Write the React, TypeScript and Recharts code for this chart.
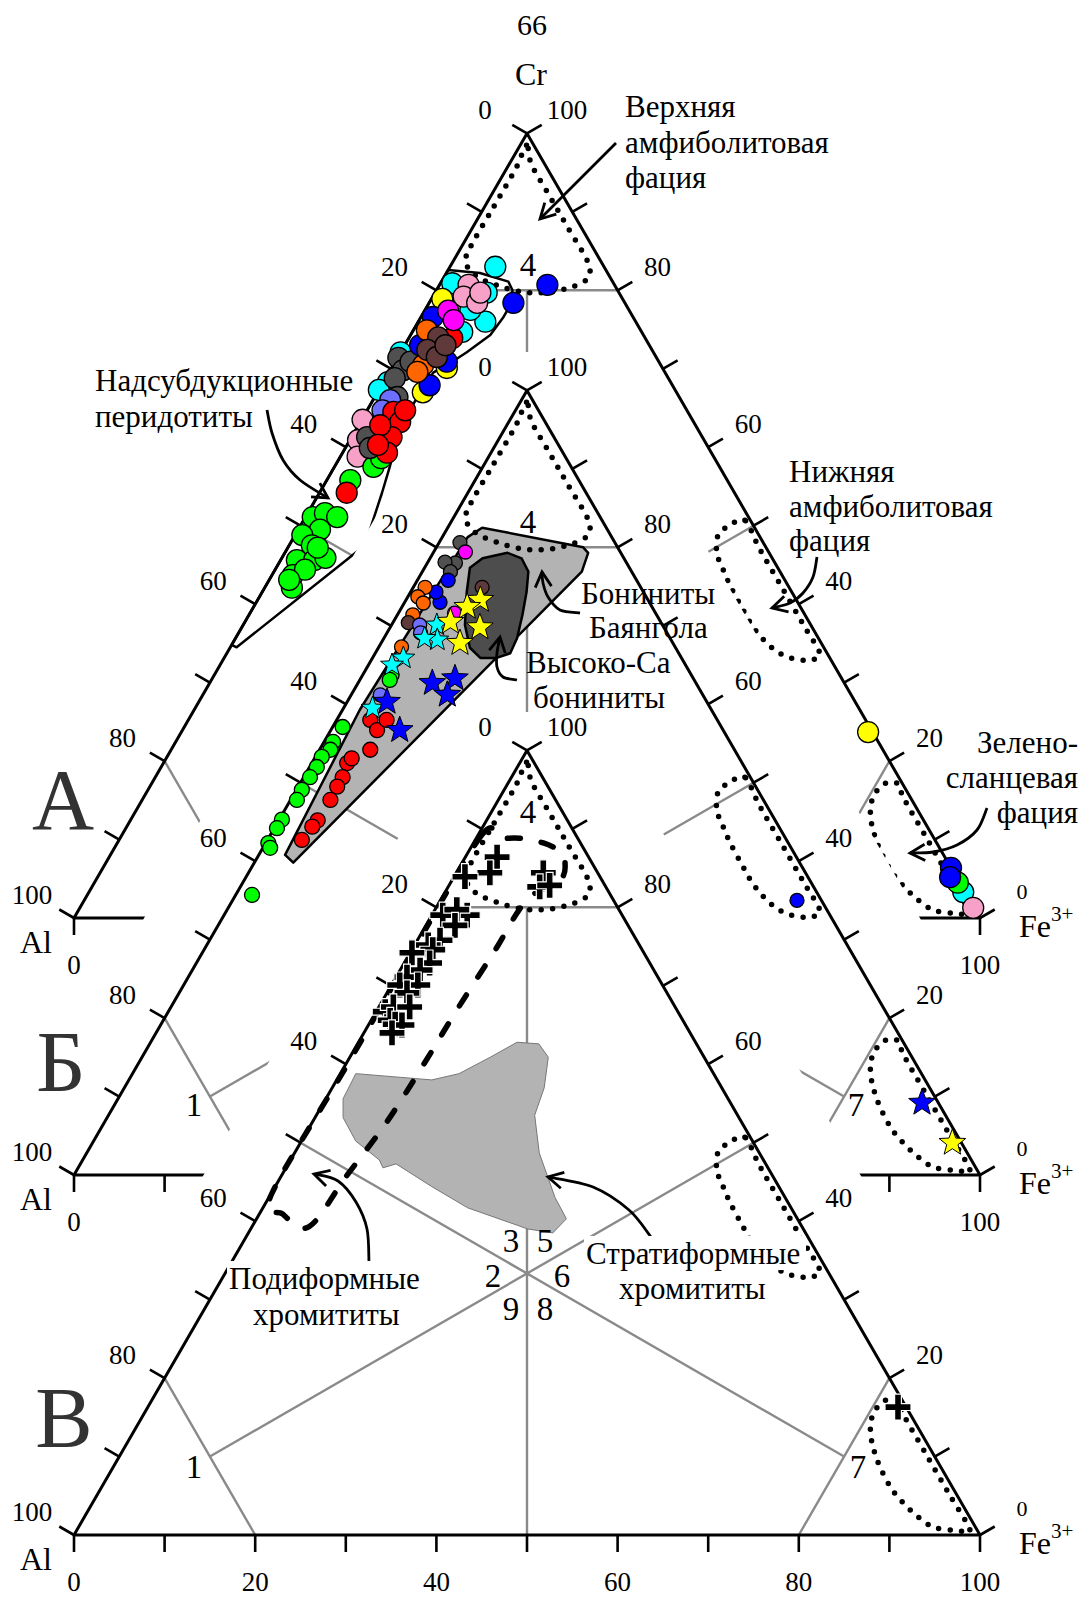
import React from 'react';
import { ScatterChart, Scatter, XAxis, YAxis } from 'recharts';

// composition as [Cr, Al, Fe3+] in percent
type Tern = [number, number, number];
type P = { x: number; y: number };

// ---------- diagram А: spinels of supra-subduction peridotites ----------
const aCyan: Tern[] = [[83.0, 12.0, 5.0], [80.9, 17.8, 1.3], [79.7, 14.6, 5.7], [76.0, 16.6, 7.4], [74.7, 19.8, 5.5], [77.5, 17.5, 5.0], [68.3, 31.2, 0.5], [67.3, 32.7, 0], [72.1, 27.9, 0], [3.3, 0.2, 96.5]];
const aPink: Tern[] = [[80.7, 16.2, 3.2], [79.2, 17.4, 3.4], [78.4, 16.3, 5.3], [79.7, 15.3, 5.0], [63.5, 36.5, 0.1], [60.9, 38.2, 0.9], [58.8, 39.3, 1.9], [1.3, 0.1, 98.6]];
const aGreen: Tern[] = [[57.5, 38.2, 4.3], [58.6, 36.8, 4.6], [55.8, 41.6, 2.6], [51.1, 48.1, 0.8], [51.6, 46.5, 1.9], [51.1, 45.4, 3.5], [49.5, 48.1, 2.4], [48.8, 50.4, 0.8], [47.5, 50.0, 2.5], [45.6, 52.6, 1.8], [43.7, 54.0, 2.3], [45.6, 50.7, 3.7], [45.9, 49.3, 4.8], [42.1, 54.9, 3.0], [44.4, 52.3, 3.3], [47.2, 49.5, 3.3], [43.1, 54.7, 2.2], [4.5, 0.2, 95.3]];
const aGray: Tern[] = [[71.4, 28.5, 0.1], [69.8, 28.8, 1.4], [68.8, 30.2, 1.0], [66.4, 31.1, 2.5], [61.3, 37.0, 1.7], [59.9, 37.4, 2.7], [70.9, 27.4, 1.7]];
const aViolet: Tern[] = [[66.0, 32.1, 1.9], [64.7, 33.6, 1.7]];
const aYellow: Tern[] = [[78.9, 19.9, 1.2], [67.0, 28.0, 5.0], [70.1, 23.8, 6.1], [23.7, 0.5, 75.8]];
const aBlue: Tern[] = [[78.4, 12.3, 9.3], [80.7, 7.4, 11.9], [76.6, 22.1, 1.3], [67.9, 26.8, 5.3], [70.9, 23.4, 5.7], [73.0, 25.3, 1.7], [6.4, 0, 93.6], [5.2, 0.7, 94.1]];
const aRed: Tern[] = [[73.9, 21.3, 4.8], [64.5, 32.5, 3.0], [63.2, 32.4, 4.4], [61.3, 34.3, 4.4], [59.3, 35.8, 4.9], [62.8, 34.8, 2.4], [60.3, 36.3, 3.4], [54.2, 42.8, 3.0], [64.7, 31.1, 4.2]];
const aOrange: Tern[] = [[70.5, 26.2, 3.3], [69.6, 27.3, 3.1], [74.9, 23.6, 1.5]];
const aBrown: Tern[] = [[74.0, 22.8, 3.2], [72.4, 24.8, 2.8], [71.5, 24.2, 4.3], [73.0, 22.5, 4.5]];
const aMagenta: Tern[] = [[77.4, 20.0, 2.6], [76.2, 20.0, 3.8]];

// ---------- diagram Б: boninites ----------
const bGray: Tern[] = [[80.6, 17.1, 2.3], [78.0, 18.9, 3.1], [78.1, 20.0, 1.9], [76.9, 20.0, 3.1]];
const bMagenta: Tern[] = [[79.4, 17.1, 3.5], [71.6, 22.2, 6.2]];
const bBlue: Tern[] = [[75.8, 20.8, 3.4], [73.0, 23.1, 3.9], [74.3, 22.9, 2.8], [35.0, 2.7, 62.3]];
const bOrange: Tern[] = [[74.9, 23.8, 1.3], [73.7, 25.2, 1.1], [72.9, 25.0, 2.1], [71.4, 26.9, 1.7], [67.3, 30.2, 2.5]];
const bBrown: Tern[] = [[70.4, 27.9, 1.7], [74.9, 17.5, 7.6]];
const bViolet: Tern[] = [[70.1, 26.8, 3.1], [69.1, 27.2, 3.7], [61.2, 35.6, 3.2]];
const bGreen: Tern[] = [[63.7, 33.1, 3.2], [63.1, 33.6, 3.3], [57.1, 41.8, 1.1], [55.2, 43.8, 1.0], [54.2, 44.6, 1.2], [53.3, 46.0, 0.7], [52.0, 47.2, 0.8], [50.7, 48.6, 0.7], [49.1, 50.3, 0.6], [47.8, 51.5, 0.7], [45.3, 54.4, 0.3], [44.2, 55.5, 0.3], [42.3, 57.4, 0.3], [41.7, 57.5, 0.8], [35.7, 62.5, 1.8]];
const bRed: Tern[] = [[58.0, 38.3, 3.7], [56.7, 38.2, 5.1], [58.0, 36.5, 5.5], [54.2, 40.2, 5.6], [52.5, 43.6, 3.9], [50.7, 45.0, 4.3], [49.5, 46.2, 4.3], [47.8, 47.8, 4.4], [45.2, 50.5, 4.3], [44.4, 51.5, 4.1], [42.7, 53.5, 3.8], [53.1, 42.8, 4.1]];
const bStarCyan: Tern[] = [[70.1, 24.9, 5.0], [68.2, 25.8, 6.0], [65.9, 30.7, 3.4], [65.0, 32.4, 2.6], [68.4, 27.1, 4.5], [59.5, 37.2, 3.2]];
const bStarYellow: Tern[] = [[73.3, 18.5, 8.2], [72.4, 20.4, 7.2], [70.5, 23.2, 6.3], [69.8, 20.3, 9.9], [67.8, 23.5, 8.7], [4.1, 1.0, 94.9]];
const bStarBlue: Tern[] = [[62.7, 29.1, 8.2], [63.3, 26.3, 10.4], [61.2, 28.2, 10.6], [60.3, 35.3, 4.4], [56.7, 35.7, 7.6], [9.2, 1.8, 89.0]];

// ---------- diagram В: chromitites ----------
const cCross: Tern[] = [[86.4, 10.1, 3.5], [84.4, 11.9, 3.7], [83.9, 14.9, 1.2], [84.4, 6.0, 9.6], [82.6, 7.3, 10.1], [82.8, 6.1, 11.1], [79.0, 19.8, 1.2], [79.0, 17.1, 3.9], [79.7, 17.9, 2.4], [77.7, 19.1, 3.2], [75.8, 21.7, 2.5], [75.2, 23.3, 1.5], [74.6, 23.1, 2.3], [74.2, 25.6, 0.2], [72.9, 24.3, 2.8], [72.0, 25.8, 2.2], [71.1, 27.7, 1.2], [70.1, 29.0, 0.9], [70.1, 27.0, 2.9], [69.1, 28.7, 2.2], [66.7, 32.3, 1.0], [66.0, 31.4, 2.6], [67.3, 31.1, 1.6], [65.6, 32.3, 2.1], [67.3, 29.3, 3.4], [65.1, 32.0, 2.9], [65.0, 31.3, 3.7], [64.0, 32.9, 3.1], [16.3, 0.9, 82.8]];

// ---------- reference fields ----------
const upperAmph: Tern[] = [[98.5, 0.8, 0.7], [95.5, 3.5, 1.0], [90.5, 8.5, 1.0], [85.5, 13.5, 1.0], [83.5, 15.0, 1.5], [81.8, 14.7, 3.5], [80.6, 12.9, 6.5], [79.8, 10.7, 9.5], [79.7, 8.3, 12.0], [80.2, 5.6, 14.2], [81.4, 2.7, 15.9], [83.5, 1.5, 15.0], [88, 1.5, 10.5], [92, 1.5, 6.5], [96, 1.5, 2.5]];
const lowerAmph: Tern[] = [[50.7, 0.6, 48.7], [50.1, 2.5, 47.4], [48.8, 4.5, 46.7], [46.5, 5.8, 47.7], [44.7, 6.1, 49.2], [42.4, 6.4, 51.2], [39.6, 6.5, 53.9], [37.1, 6.5, 56.4], [35.0, 6.0, 59.0], [33.5, 5.0, 61.5], [32.9, 3.4, 63.7], [32.9, 2.0, 65.1], [33.8, 0.8, 65.4], [37, 0.8, 62.2], [42, 0.8, 57.2], [47, 0.8, 52.2]];
const greenschist: Tern[] = [[17.2, 0.6, 82.2], [17.0, 2.2, 80.8], [15.4, 4.1, 80.5], [13.4, 5.4, 81.2], [11.2, 6.2, 82.6], [8.7, 6.7, 84.6], [5.7, 6.8, 87.5], [3.2, 6.1, 90.7], [1.4, 5.1, 93.5], [0.8, 4.0, 95.2], [0.6, 2.2, 97.2], [0.6, 0.8, 98.6], [5, 0.8, 94.2], [10, 0.8, 89.2], [15, 0.8, 84.2]];
const peridotiteField: Tern[] = [[82.6, 17.4, 0], [82.2, 14.1, 3.7], [81.1, 11.5, 7.4], [80.0, 11.6, 8.4], [78.1, 12.8, 9.1], [76.5, 14.4, 9.1], [74.3, 16.9, 8.8], [72.1, 20.6, 7.3], [70.9, 22.8, 6.3], [69.5, 25.6, 4.9], [66.4, 28.9, 4.7], [62.6, 32.7, 4.7], [57.5, 36.4, 6.1], [54.2, 38.9, 6.9], [48.2, 43.6, 8.2], [46.7, 45.4, 7.9], [34.5, 64.8, 0.7], [34.8, 65.2, 0]];
const boniniteField: Tern[] = [[82.5, 13.7, 3.8], [80.0, 3.8, 16.2], [79.3, 3.6, 17.1], [76.9, 5.5, 17.6], [39.8, 55.9, 4.3], [40.8, 56.3, 2.9], [59.3, 38.8, 1.9], [81.3, 15.9, 2.8]];
const bayangolField: Tern[] = [[77.4, 17.6, 5.0], [78.6, 15.6, 5.8], [79.3, 12.6, 8.2], [78.6, 11.3, 10.1], [76.9, 11.4, 11.7], [74.3, 12.9, 12.8], [71.4, 14.8, 13.8], [68.4, 16.9, 14.7], [66.5, 18.6, 14.9], [65.9, 20.4, 13.7], [65.9, 22.2, 11.9], [67.2, 22.7, 10.1], [70.1, 21.8, 8.1], [74.3, 19.5, 6.2]];
const podiformField: Tern[] = [[89.2, 10.4, 0.4], [88.8, 8.6, 2.6], [88.8, 6.4, 4.8], [88.2, 4.1, 7.7], [87.1, 2.8, 10.1], [85.6, 3.0, 11.4], [83.5, 4.6, 11.9], [80.9, 9.6, 9.5], [74.2, 16.6, 9.2], [66.9, 24.3, 8.8], [59.9, 31.5, 8.6], [52.6, 39.2, 8.2], [45.8, 47.0, 7.2], [39.3, 54.4, 6.3], [40.9, 56.5, 2.6], [43.3, 56.6, 0.1], [60, 39.8, 0.2], [75, 24.8, 0.2]];
const stratiformField: Tern[] = [[58.8, 39.5, 1.7], [58.0, 31.5, 10.5], [58.8, 28.1, 13.1], [60.9, 23.6, 15.5], [62.8, 19.7, 17.5], [62.6, 17.4, 20.0], [60.9, 17.2, 21.9], [57.0, 19.6, 23.4], [53.5, 22.4, 24.1], [48.7, 24.3, 27.0], [43.0, 25.4, 31.6], [40.3, 25.5, 34.2], [38.5, 27.9, 33.6], [39.0, 30.4, 30.6], [41.7, 35.7, 22.6], [44.4, 38.3, 17.3], [47.3, 40.8, 11.9], [46.8, 42.5, 10.7], [47.8, 42.4, 9.8], [50.2, 43.8, 6.0], [53.2, 43.7, 3.1], [55.6, 42.5, 1.9]];

const TICKS = [0, 10, 20, 30, 40, 50, 60, 70, 80, 90, 100];
const TICK_LABELS = [0, 20, 40, 60, 80, 100];

// ---------- layout ----------
const W = 1090;
const H = 1598;
const K = 9.06; // px per percent along a side
const OX = 74; // Al corner x
const OY = 1535; // base line of the lowest triangle
const SQ = Math.sqrt(3) / 2;
const SERIF = '"Liberation Serif", "Times New Roman", serif';
const GRID = '#8a8a8a';

const BASE_A = (OY - 918) / K;
const BASE_B = (OY - 1175) / K;
const BASE_C = 0;

const tern = (cr: number, fe: number, base: number): P => ({ x: fe + cr / 2, y: base + cr * SQ });
const at = (px: number, py: number): P => ({ x: (px - OX) / K, y: (OY - py) / K });
const place = (list: Tern[], base: number) => list.map((t) => tern(t[0], t[2], base));

type Look = {
  stroke?: string;
  width?: number;
  dash?: string;
  fill?: string;
  close?: boolean;
  smooth?: boolean;
  pairs?: boolean;
  arrow?: boolean;
  round?: boolean;
};

function smoothPath(pts: P[], closed: boolean): string {
  const n = pts.length;
  if (n < 3) return pts.map((p, i) => `${i ? 'L' : 'M'}${p.x} ${p.y}`).join(' ');
  const get = (i: number) => (closed ? pts[(i + n) % n] : pts[Math.max(0, Math.min(n - 1, i))]);
  let d = `M${pts[0].x} ${pts[0].y}`;
  const segs = closed ? n : n - 1;
  for (let i = 0; i < segs; i++) {
    const p0 = get(i - 1), p1 = get(i), p2 = get(i + 1), p3 = get(i + 2);
    const c1x = p1.x + (p2.x - p0.x) / 6, c1y = p1.y + (p2.y - p0.y) / 6;
    const c2x = p2.x - (p3.x - p1.x) / 6, c2y = p2.y - (p3.y - p1.y) / 6;
    d += ` C${c1x} ${c1y} ${c2x} ${c2y} ${p2.x} ${p2.y}`;
  }
  return closed ? d + ' Z' : d;
}

function Stroke({ pts, look }: { pts: P[]; look: Look }) {
  let d: string;
  if (look.pairs) d = pts.map((p, i) => `${i % 2 ? 'L' : 'M'}${p.x} ${p.y}`).join(' ');
  else if (look.smooth) d = smoothPath(pts, !!look.close);
  else d = pts.map((p, i) => `${i ? 'L' : 'M'}${p.x} ${p.y}`).join(' ') + (look.close ? ' Z' : '');
  let head: React.ReactNode = null;
  if (look.arrow && pts.length > 1) {
    const a = pts[pts.length - 2], b = pts[pts.length - 1];
    const ang = Math.atan2(b.y - a.y, b.x - a.x);
    const hl = 17, spread = 0.5;
    const p1 = { x: b.x - hl * Math.cos(ang - spread), y: b.y - hl * Math.sin(ang - spread) };
    const p2 = { x: b.x - hl * Math.cos(ang + spread), y: b.y - hl * Math.sin(ang + spread) };
    head = <path d={`M${p1.x} ${p1.y} L${b.x} ${b.y} L${p2.x} ${p2.y}`} fill="none" stroke={look.stroke} strokeWidth={look.width} />;
  }
  return (
    <g>
      <path
        d={d}
        fill={look.fill ?? 'none'}
        stroke={look.stroke ?? 'none'}
        strokeWidth={look.width ?? 1}
        strokeDasharray={look.dash}
        strokeLinecap={look.round ? 'round' : 'butt'}
        strokeLinejoin="round"
      />
      {head}
    </g>
  );
}

const blank = () => <g />;

// a polyline / polygon drawn through the chart scales
function trace(key: string, pts: P[], look: Look) {
  return (
    <Scatter
      key={key}
      data={pts}
      shape={blank}
      isAnimationActive={false}
      line={(lp: any) => <Stroke pts={lp.points} look={look} />}
    />
  );
}

const dot = (r: number, color: string) => (p: any) => (
  <circle cx={p.cx} cy={p.cy} r={r} fill={color} stroke="#000" strokeWidth={1.3} />
);

const star = (R: number, color: string) => (p: any) => {
  const pts: string[] = [];
  for (let i = 0; i < 10; i++) {
    const rr = i % 2 ? R * 0.42 : R;
    const a = (-90 + i * 36) * (Math.PI / 180);
    pts.push(`${p.cx + rr * Math.cos(a)},${p.cy + rr * Math.sin(a)}`);
  }
  return <polygon points={pts.join(' ')} fill={color} stroke="#000" strokeWidth={1} />;
};

const cross = (L: number, t: number) => (p: any) => {
  const { cx, cy } = p;
  const d = `M${cx - t} ${cy - L} h${2 * t} v${L - t} h${L - t} v${2 * t} h${-(L - t)} v${L - t} h${-2 * t} v${-(L - t)} h${-(L - t)} v${-2 * t} h${L - t} Z`;
  return <path d={d} fill="#000" stroke="#fff" strokeWidth={1.2} />;
};

function marks(key: string, list: Tern[], base: number, shape: (p: any) => React.ReactElement) {
  return <Scatter key={key} data={place(list, base)} shape={shape} isAnimationActive={false} />;
}

type Label = P & { t: string; size?: number; anchor?: string; sup?: string; color?: string; bgW?: number };

function texts(key: string, items: Label[]) {
  return (
    <Scatter
      key={key}
      data={items}
      isAnimationActive={false}
      shape={(p: any) => {
        const d: Label = p.payload ?? p;
        const size = d.size ?? 27;
        const anchor = d.anchor ?? 'middle';
        return (
          <g>
            {d.bgW ? (
              <rect
                x={anchor === 'start' ? p.cx - 2 : p.cx - d.bgW / 2}
                y={p.cy - size * 0.55}
                width={d.bgW}
                height={size * 1.1}
                fill="#fff"
              />
            ) : null}
            <text
              x={p.cx}
              y={p.cy}
              fontFamily={SERIF}
              fontSize={size}
              textAnchor={anchor}
              dominantBaseline="central"
              fill={d.color ?? '#000'}
            >
              {d.t}
              {d.sup ? (
                <tspan fontSize={size * 0.66} dy={-size * 0.36}>
                  {d.sup}
                </tspan>
              ) : null}
            </text>
          </g>
        );
      }}
    />
  );
}

// edges, ticks, grid and axis numbers of one triangle
function frame(id: string, base: number, fullBottom: boolean) {
  const T = (cr: number, fe: number) => tern(cr, fe, base);
  const TL = 17 / K;
  const grid = [
    T(80, 0), T(80, 20),
    T(20, 0), T(0, 20),
    T(20, 80), T(0, 80),
    T(0, 50), T(80, 10),
    T(50, 0), T(10, 80),
    T(50, 50), T(10, 10),
  ];
  const tk: P[] = [];
  for (const v of TICKS) {
    const l = T(100 - v, 0);
    tk.push(l, { x: l.x - SQ * TL, y: l.y + 0.5 * TL });
    const r = T(v, 100 - v);
    tk.push(r, { x: r.x + SQ * TL, y: r.y + 0.5 * TL });
    const b = T(0, v);
    tk.push(b, { x: b.x, y: b.y - TL });
  }
  const nums: Label[] = [];
  for (const v of TICK_LABELS) {
    const l = T(100 - v, 0);
    nums.push({ x: l.x - 42 / K, y: l.y + 23 / K, t: String(v) });
    const r = T(v, 100 - v);
    if (v === 0) nums.push({ x: r.x + 42 / K, y: r.y + 27 / K, t: '0', size: 22 });
    else nums.push({ x: r.x + 40 / K, y: r.y + 23 / K, t: String(v) });
    if (fullBottom || v === 0 || v === 100) {
      const b = T(0, v);
      nums.push({ x: b.x, y: b.y - 47 / K, t: String(v) });
    }
  }
  nums.push({ x: -38 / K, y: base - 24 / K, t: 'Al', size: 32 });
  nums.push({ x: 945 / K, y: base - 8 / K, t: 'Fe', sup: '3+', size: 32, anchor: 'start' });
  return [
    trace(`${id}-grid`, grid, { stroke: GRID, width: 2.4, pairs: true }),
    trace(`${id}-edge`, [T(0, 0), T(100, 0), T(0, 100)], { stroke: '#000', width: 3, close: true }),
    trace(`${id}-ticks`, tk, { stroke: '#000', width: 2.6, pairs: true }),
    texts(`${id}-nums`, nums),
  ];
}

// white cover that hides the lower part of the triangle above
function cover(id: string, apexPy: number) {
  const top = apexPy - 38;
  const bot = H + 20;
  const xl = (py: number) => 527 - 78 - (py - apexPy) * 0.5774;
  const xr = (py: number) => 527 + 88 + (py - apexPy) * 0.5774;
  return trace(id, [at(xl(top), top), at(xr(top), top), at(xr(bot), bot), at(xl(bot), bot)], { fill: '#fff', close: true });
}

const DOTTED: Look = { stroke: '#000', width: 5.5, dash: '0 11.5', round: true, close: true, smooth: true };

function facies(id: string, base: number) {
  return [
    trace(`${id}-ua`, place(upperAmph, base), DOTTED),
    trace(`${id}-la`, place(lowerAmph, base), DOTTED),
    trace(`${id}-gs`, place(greenschist, base), DOTTED),
  ];
}

const C = {
  cyan: '#00ffff',
  pink: '#f7a1c8',
  magenta: '#ff00ff',
  blue: '#0000ff',
  yellow: '#ffff00',
  red: '#ff0000',
  brown: '#603a3a',
  gray: '#505050',
  orange: '#ff6600',
  violet: '#6f6fff',
  green: '#00ff00',
};

const arrows: P[][] = [
  [at(616, 143), at(540, 219)],
  [at(267, 410), at(272, 433), at(283, 460), at(300, 480), at(328, 498)],
  [at(817, 557), at(813, 577), at(803, 593), at(790, 603), at(772, 608)],
  [at(987, 808), at(977, 830), at(957, 845), at(933, 852), at(910, 853)],
  [at(580, 613), at(560, 610), at(548, 597), at(543, 583), at(542, 572)],
  [at(517, 680), at(503, 677), at(497, 667), at(497, 653), at(500, 637)],
  [at(369, 1263), at(367, 1229), at(356, 1202), at(338, 1181), at(314, 1174)],
  [at(651, 1237), at(629, 1210), at(593, 1187), at(548, 1177)],
];

const fieldNotes: Label[] = [
  { ...at(625, 106), t: 'Верхняя', size: 31, anchor: 'start' },
  { ...at(625, 142), t: 'амфиболитовая', size: 31, anchor: 'start' },
  { ...at(625, 177), t: 'фация', size: 31, anchor: 'start' },
  { ...at(95, 380), t: 'Надсубдукционные', size: 31, anchor: 'start' },
  { ...at(95, 416), t: 'перидотиты', size: 31, anchor: 'start' },
  { ...at(789, 471), t: 'Нижняя', size: 31, anchor: 'start' },
  { ...at(789, 506), t: 'амфиболитовая', size: 31, anchor: 'start' },
  { ...at(789, 540), t: 'фация', size: 31, anchor: 'start' },
  { ...at(1078, 742), t: 'Зелено-', size: 31, anchor: 'end' },
  { ...at(1078, 777), t: 'сланцевая', size: 31, anchor: 'end' },
  { ...at(1078, 812), t: 'фация', size: 31, anchor: 'end' },
  { ...at(581, 593), t: 'Бониниты', size: 31, anchor: 'start' },
  { ...at(589, 627), t: 'Баянгола', size: 31, anchor: 'start' },
  { ...at(526, 662), t: 'Высоко-Ca', size: 31, anchor: 'start' },
  { ...at(533, 697), t: 'бониниты', size: 31, anchor: 'start' },
  { ...at(229, 1278), t: 'Подиформные', size: 31, anchor: 'start', bgW: 198 },
  { ...at(253, 1314), t: 'хромититы', size: 31, anchor: 'start', bgW: 150 },
  { ...at(586, 1253), t: 'Стратиформные', size: 31, anchor: 'start', bgW: 222 },
  { ...at(619, 1288), t: 'хромититы', size: 31, anchor: 'start', bgW: 152 },
];

const regionNotes: Label[] = [
  { ...at(528, 265), t: '4', size: 33 },
  { ...at(528, 522), t: '4', size: 33 },
  { ...at(528, 812), t: '4', size: 33 },
  { ...at(194, 1105), t: '1', size: 33 },
  { ...at(194, 1467), t: '1', size: 33 },
  { ...at(856, 1105), t: '7', size: 33 },
  { ...at(858, 1467), t: '7', size: 33 },
  { ...at(511, 1241), t: '3', size: 33 },
  { ...at(545, 1241), t: '5', size: 33 },
  { ...at(493, 1276), t: '2', size: 33 },
  { ...at(562, 1276), t: '6', size: 33 },
  { ...at(511, 1309), t: '9', size: 33 },
  { ...at(545, 1309), t: '8', size: 33 },
];

const headNotes: Label[] = [
  { ...at(532, 24), t: '66', size: 30 },
  { ...at(531, 74), t: 'Cr', size: 32 },
  { ...at(63, 800), t: 'А', size: 86, color: '#333' },
  { ...at(61, 1062), t: 'Б', size: 86, color: '#333' },
  { ...at(64, 1418), t: 'В', size: 86, color: '#333' },
];

export default function App() {
  const A = BASE_A, B = BASE_B, Cb = BASE_C;
  const layers = [
    // А
    ...frame('a', A, false),
    ...facies('a', A),
    trace('a-peri', place(peridotiteField, A), { stroke: '#000', width: 2.5, close: true }),
    marks('a-cyan', aCyan, A, dot(10.5, C.cyan)),
    marks('a-pink', aPink, A, dot(10.5, C.pink)),
    marks('a-green', aGreen, A, dot(10.5, C.green)),
    marks('a-gray', aGray, A, dot(10.5, C.gray)),
    marks('a-violet', aViolet, A, dot(10.5, C.violet)),
    marks('a-yellow', aYellow, A, dot(10.5, C.yellow)),
    marks('a-blue', aBlue, A, dot(10.5, C.blue)),
    marks('a-red', aRed, A, dot(10.5, C.red)),
    marks('a-orange', aOrange, A, dot(10.5, C.orange)),
    marks('a-brown', aBrown, A, dot(10.5, C.brown)),
    marks('a-magenta', aMagenta, A, dot(10.5, C.magenta)),
    // Б
    cover('b-cover', 390),
    ...frame('b', B, false),
    trace('b-bon', place(boniniteField, B), { stroke: '#000', width: 2.5, fill: '#b3b3b3', close: true }),
    trace('b-bay', place(bayangolField, B), { stroke: '#000', width: 2.5, fill: '#4d4d4d', close: true }),
    ...facies('b', B),
    marks('b-gray', bGray, B, dot(7, C.gray)),
    marks('b-magenta', bMagenta, B, dot(7, C.magenta)),
    marks('b-blue', bBlue, B, dot(7, C.blue)),
    marks('b-orange', bOrange, B, dot(7, C.orange)),
    marks('b-brown', bBrown, B, dot(7, C.brown)),
    marks('b-violet', bViolet, B, dot(7, C.violet)),
    marks('b-green', bGreen, B, dot(7.5, C.green)),
    marks('b-red', bRed, B, dot(7.5, C.red)),
    marks('b-scyan', bStarCyan, B, star(12, C.cyan)),
    marks('b-syellow', bStarYellow, B, star(14, C.yellow)),
    marks('b-sblue', bStarBlue, B, star(14, C.blue)),
    // В
    cover('c-cover', 750),
    ...frame('c', Cb, true),
    trace('c-strat', place(stratiformField, Cb), { stroke: '#777', width: 1, fill: '#b3b3b3', close: true }),
    ...facies('c', Cb),
    trace('c-pod', place(podiformField, Cb), { stroke: '#000', width: 5.5, dash: '13 21', round: true, close: true, smooth: true }),
    marks('c-cross', cCross, Cb, cross(13, 3.4)),
    // annotations
    ...arrows.map((a, i) => trace(`arrow-${i}`, a, { stroke: '#000', width: 2.8, smooth: true, arrow: true })),
    texts('notes-field', fieldNotes),
    texts('notes-region', regionNotes),
    texts('notes-head', headNotes),
  ];

  return (
    <div style={{ position: 'absolute', left: 0, top: 0, width: W, height: H, background: '#fff' }}>
      <ScatterChart width={W} height={H} margin={{ top: 0, right: 0, bottom: 0, left: 0 }}>
        <XAxis type="number" dataKey="x" domain={[-OX / K, (W - OX) / K]} hide allowDataOverflow />
        <YAxis type="number" dataKey="y" domain={[-(H - OY) / K, OY / K]} hide allowDataOverflow />
        {layers}
      </ScatterChart>
    </div>
  );
}
